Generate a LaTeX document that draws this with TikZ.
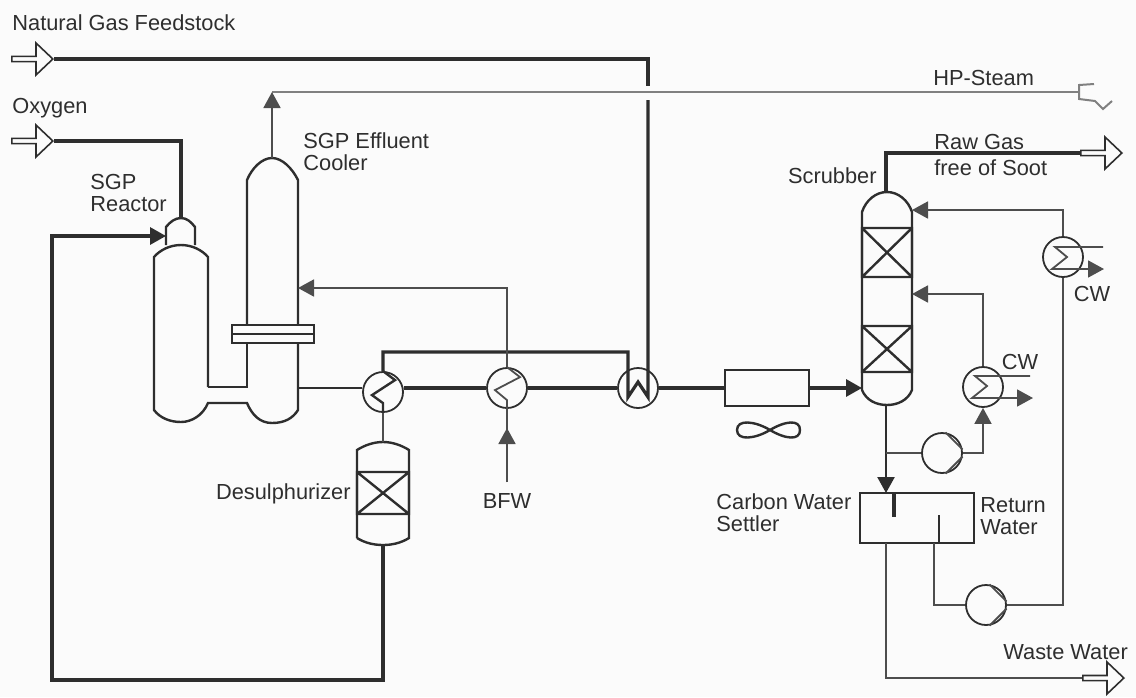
\documentclass[tikz,border=0pt]{standalone}
\usepackage{fontspec}
\setmainfont{Liberation Sans}
\usepackage{xcolor}
\usetikzlibrary{positioning, arrows.meta, shapes.arrows}
\definecolor{paper}{HTML}{FBFBFB}
\definecolor{ink}{HTML}{2E2E2E}
\definecolor{pale}{HTML}{808080}
\tikzset{
	mainpipe/.style={draw=ink, line width=1.6pt},
	pipe/.style={draw=ink, line width=1.2pt},
	thinpipe/.style={draw=ink!85, line width=0.9pt},
	port/.style={single arrow, draw=ink, line width=0.8pt, minimum height=20.5pt, minimum width=16pt, single arrow head extend=2.1pt, single arrow tip angle=87, inner sep=0pt},
	hx/.style={circle, draw=ink, line width=0.9pt, minimum size=20pt, inner sep=0pt},
	pump/.style={hx},
	lbl/.style={font=\fontsize{10.9}{11}\selectfont, text=ink, inner sep=0pt, align=left},
	>={Triangle[length=8pt,width=8.5pt]},
}
\begin{document}
\begin{tikzpicture}[x=0.5pt, y=-0.5pt, node distance=60pt]
			\fill[paper] (0,0) rectangle (1136,697);
			\useasboundingbox (0,0) rectangle (1136,697);
			
			% ports
			\node[port] (gasin) at (31,59) {};
			\node[port] (oxin) at (31,141) {};
			\node[port] (rawout) at (1100,153) {};
			\node[port] (wasteout) at (1102,678) {};
			
			% exchangers and pumps
			\node[hx] (hxa) at (383,392) {};
			\node[hx] (hxb) at (507,388) {};
			\node[hx, right of = hxb, node distance=65.5pt] (hxc) {};
			\node[hx] (hxd) at (1063,257) {};
			\node[hx] (hxe) at (983,387) {};
			\node[pump] (pumpa) at (942,453) {};
			\node[pump] (pumpb) at (986,605) {};
			\node[draw=ink, line width=1.2pt, minimum width=42pt, minimum height=18pt, inner sep=0pt, right of = hxc, node distance=64.5pt] (filter) {};
			\node[draw=ink, line width=1.4pt, minimum width=57pt, minimum height=25pt, inner sep=0pt] (settler) at (917,518) {};
			
			% reactor and effluent cooler
			\draw[pipe] (166,245) -- (166,227) .. controls (170,222) and (175,218) .. (181,218) .. controls (187,218) and (191,222) .. (195,227) -- (195,245);
			\draw[pipe] (208,387) -- (208,257) .. controls (202,250) and (192,245) .. (181,245) .. controls (170,245) and (160,250) .. (154,257) -- (154,410) .. controls (160,418) and (170,422) .. (181,422) .. controls (192,422) and (203,415) .. (208,403) -- (247,403) .. controls (252,415) and (260,423) .. (272,423) .. controls (285,423) and (293,418) .. (298,410) -- (298,343);
			\draw[pipe] (208,387) -- (247,387) -- (247,343);
			\draw[pipe] (247,325) -- (247,180) .. controls (252,168) and (262,158) .. (272,158) .. controls (282,158) and (292,168) .. (298,180) -- (298,325);
			\draw[pipe] (232,325) rectangle (314,343) (232,334) -- (314,334);
			
			% desulphurizer
			\draw[pipe] (357,538) -- (357,450) .. controls (365,445) and (374,442) .. (383,442) .. controls (392,442) and (401,445) .. (409,450) -- (409,538) .. controls (401,543) and (392,545) .. (383,545) .. controls (374,545) and (365,543) .. (357,538);
			\draw[pipe] (357,472) rectangle (409,514) (357,472) -- (409,514) (357,514) -- (409,472);
			
			% scrubber
			\draw[pipe] (862,390) -- (862,212) .. controls (866,200) and (876,192) .. (887,192) .. controls (898,192) and (908,200) .. (912,212) -- (912,390) .. controls (908,400) and (898,405) .. (887,405) .. controls (876,405) and (866,400) .. (862,390);
			\draw[pipe] (862,228) rectangle (912,277) (862,228) -- (912,277) (862,277) -- (912,228);
			\draw[pipe] (862,326) rectangle (912,372) (862,326) -- (912,372) (862,372) -- (912,326);
			
			% fan
			\draw[pipe] (770,430) .. controls (755,421) and (737,419) .. (737,430) .. controls (737,441) and (755,439) .. (770,430) .. controls (785,421) and (800,419) .. (800,430) .. controls (800,441) and (785,439) .. (770,430);
			
			% settler baffles
			\draw[mainpipe] (894,493) -- (894,517);
			\draw[pipe] (939,515) -- (939,543);
			
			% pump chords
			\draw[thinpipe] (pumpa.80) -- (pumpa.10) (pumpa.-80) -- (pumpa.-10);
			\draw[thinpipe] (pumpb.80) -- (pumpb.10) (pumpb.-80) -- (pumpb.-10);
			
			% points on the vessels
			\coordinate (captop) at (181,218);
			\coordinate (capfeed) at (166,236);
			\coordinate (cooltop) at (272,158);
			\coordinate (steamtop) at (272,92);
			\coordinate (steamend) at (1079,92);
			\coordinate (coolwall) at (298,288);
			\coordinate (coolout) at (298,388);
			\coordinate (turnone) at (52,236);
			\coordinate (turntwo) at (52,680);
			\coordinate (desultop) at (383,442);
			\coordinate (desulbot) at (383,545);
			\coordinate (turnthree) at (628,352);
			\coordinate (gastop) at (648,86);
			\coordinate (gaslow) at (648,100);
			\coordinate (scrubin) at (862,388);
			\coordinate (scrubtop) at (886,192);
			\coordinate (scrubbot) at (886,405);
			\coordinate (scrubfeed) at (912,210);
			\coordinate (scrubmid) at (912,294);
			\coordinate (branch) at (886,453);
			\coordinate (settlein) at (886,493);
			\coordinate (settleout) at (886,543);
			\coordinate (settlerun) at (934,543);
			\coordinate (bfwtip) at (507,428);
			\coordinate (bfwend) at (507,482);
			
			% pipes
			\draw[mainpipe] (gasin.tip) -| (gastop);
			\draw[mainpipe] (oxin.tip) -| (captop);
			\draw[mainpipe, ->] (desulbot) |- (turntwo) -- (turnone) -- (capfeed);
			\draw[draw=pale, line width=1pt] (steamend) -- (steamtop);
			\draw[thinpipe, ->] (cooltop) -- (steamtop);
			\draw[pipe] (coolout) -- (hxa.west |- hxb);
			\draw[mainpipe] (hxa.east |- hxb) -- (hxb);
			\draw (hxb) edge[mainpipe] (hxc) ;
			\draw (hxc) edge[mainpipe] (filter) ;
			\draw[mainpipe, ->] (filter) -- (scrubin);
			\draw[mainpipe] (hxa.north) |- (turnthree) -- ++(0,45) -- ++(10,-15) -- ++(10,15) -- (gaslow);
			\draw[mainpipe] (scrubtop) |- (rawout.tail);
			\draw[thinpipe] (hxa.south) -- (desultop);
			\draw[thinpipe, ->] (hxb.north) |- (coolwall);
			\draw[thinpipe] (bfwend) -- (hxb.south);
			\draw[thinpipe, ->] (bfwend) -- (bfwtip);
			\draw[thinpipe, ->] (hxd.north) |- (scrubfeed);
			\draw[thinpipe, ->] (hxe.north) |- (scrubmid);
			\draw[pipe, ->] (scrubbot) -- (settlein);
			\draw[thinpipe] (branch) -- (pumpa.west);
			\draw[thinpipe, ->] (pumpa.east) -| (hxe.south);
			\draw[thinpipe] (settlerun) |- (pumpb.west);
			\draw[thinpipe] (pumpb.east) -| (hxd.south);
			\draw[thinpipe] (settleout) |- (wasteout.tail);
			
			% coils
			\draw[pipe] (hxa.north) -- ++(12,9) -- ++(-23,15) -- ++(11,8) -- (hxa.south);
			\draw[thinpipe] (hxb.north) -- ++(13,10) -- ++(-25,13) -- ++(12,10) -- (hxb.south);
			\draw[thinpipe] (1103,247) -- (1055,247) -- ++(12,10) -- ++(-15,12) -- (1086,269);
			\draw[thinpipe, ->] (1086,269) -- (1104,269);
			\draw[thinpipe] (1030,376) -- (975,376) -- ++(12,10) -- ++(-15,12) -- (1015,398);
			\draw[thinpipe, ->] (1015,398) -- (1033,398);
			
			% steam end
			\draw[draw=pale, line width=1pt] (1094,84) -- (1079,85) -- (1079,99) -- (1095,101) -- (1103,109) -- (1112,101);
			
			% labels
			\node[lbl, anchor=west] (gastxt) at (12,23) {Natural Gas Feedstock};
			\node[lbl, anchor=west] (oxtxt) at (12,108) {Oxygen};
			\node[lbl, anchor=west] (reactortxt) at (90,193) {SGP\\Reactor};
			\node[lbl, anchor=west] (cooltxt) at (303,152) {SGP Effluent\\Cooler};
			\node[lbl, anchor=west] (steamtxt) at (933,78) {HP-Steam};
			\node[lbl, anchor=west] (rawtxt) at (934,155) {Raw Gas\\[2pt]free of Soot};
			\node[lbl, anchor=east] (scrubtxt) at (877,176) {Scrubber};
			\node[lbl, anchor=east] (desultxt) at (351,494) {Desulphurizer};
			\node[lbl, below of = hxb, node distance=56.5pt] (bfwtxt) {BFW};
			\node[lbl, anchor=west] (settletxt) at (716,513) {Carbon Water\\Settler};
			\node[lbl, anchor=west] (returntxt) at (980,516) {Return\\Water};
			\node[lbl] (cwatxt) at (1092,294) {CW};
			\node[lbl] (cwbtxt) at (1020,362) {CW};
			\node[lbl, anchor=west] (wastetxt) at (1003,652) {Waste Water};
			
		\end{tikzpicture}
\end{document}
